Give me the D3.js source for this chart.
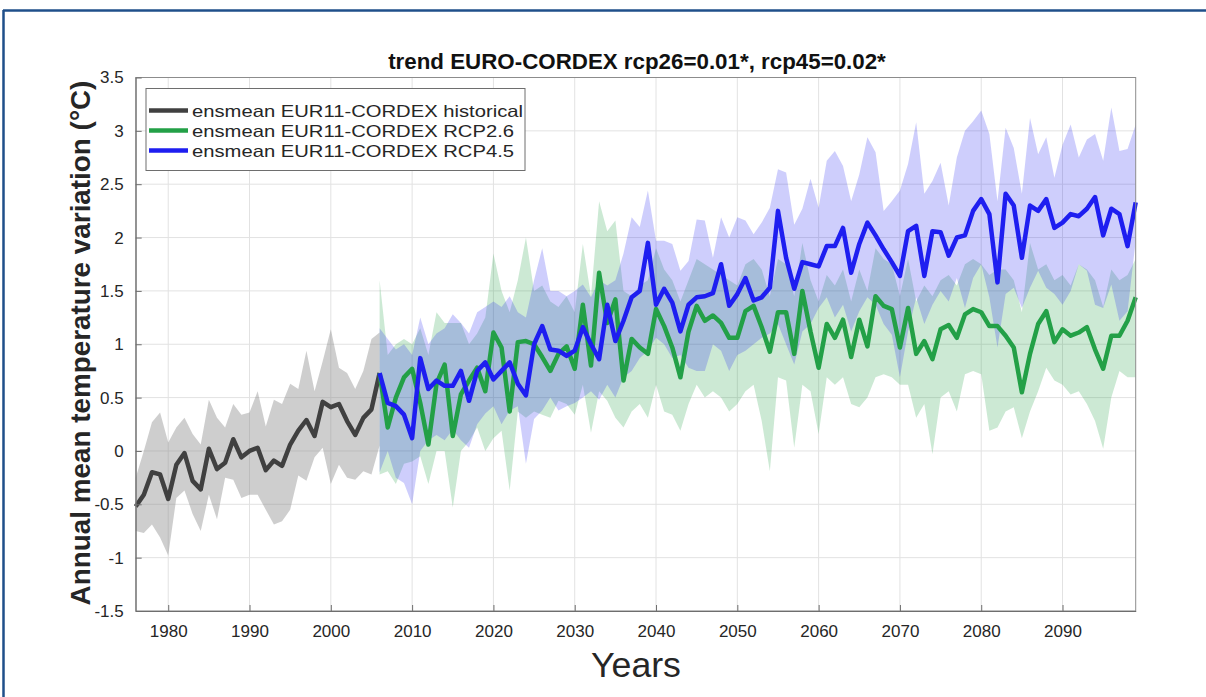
<!DOCTYPE html>
<html><head><meta charset="utf-8">
<script src="https://cdn.jsdelivr.net/npm/d3@7"></script>
<style>html,body{margin:0;padding:0;background:#fff;}svg{display:block;font-family:"Liberation Sans",Arial,sans-serif;}</style>
</head><body>
<svg id="chart" width="1206" height="697"></svg>
<script>
// ---------------- data ----------------
const histYears = d3.range(1976, 2007);
const histMean = [-0.52,-0.41,-0.20,-0.22,-0.45,-0.13,-0.02,-0.28,-0.36,0.02,-0.17,-0.11,0.11,-0.06,0.00,0.03,-0.18,-0.09,-0.14,0.06,0.19,0.29,0.14,0.46,0.41,0.44,0.28,0.15,0.31,0.39,0.73];
const histUpper = [-0.25,0.00,0.27,0.36,0.08,0.22,0.31,0.16,0.06,0.48,0.31,0.22,0.44,0.34,0.36,0.56,0.23,0.48,0.44,0.63,0.58,0.94,0.56,0.84,1.14,0.78,0.73,0.58,0.75,1.05,1.11];
const histLower = [-0.75,-0.77,-0.69,-0.81,-0.98,-0.44,-0.37,-0.59,-0.75,-0.41,-0.64,-0.25,-0.27,-0.44,-0.41,-0.41,-0.55,-0.69,-0.66,-0.55,-0.23,-0.28,-0.06,0.03,-0.31,-0.13,-0.25,-0.27,-0.19,-0.22,0.05];

const rcpYears = d3.range(2006, 2100);
const rcp26Mean = [
 0.73,0.22,0.50,0.69,0.77,0.45,0.06,0.63,0.81,0.14,
 0.53,0.66,0.78,0.56,1.11,0.97,0.37,1.02,1.03,1.00,
 0.88,0.75,0.91,0.98,0.77,1.37,0.80,1.67,1.20,1.42,
 0.66,1.05,0.97,0.91,1.33,1.17,0.97,0.69,1.12,1.36,
 1.22,1.27,1.20,1.06,1.06,1.31,1.36,1.16,0.93,1.30,
 1.30,0.91,1.50,1.12,0.78,1.19,1.06,1.23,0.88,1.23,
 0.98,1.45,1.36,1.33,0.97,1.34,0.91,1.03,0.86,1.14,
 1.18,1.06,1.28,1.33,1.30,1.17,1.17,1.08,0.97,0.55,
 0.91,1.19,1.31,1.02,1.14,1.08,1.11,1.16,0.95,0.77,
 1.08,1.08,1.22,1.44];
const rcp26Upper = [
 1.60,0.90,1.00,1.05,1.00,1.15,0.90,1.30,1.20,1.20,
 1.20,1.00,1.10,1.25,1.85,1.50,1.30,1.60,2.00,1.50,
 1.55,1.40,1.35,1.45,1.30,1.94,1.45,2.34,2.06,2.16,
 1.50,1.45,1.55,1.60,1.90,1.70,1.60,1.40,1.60,1.80,
 1.75,1.70,1.65,1.60,1.55,1.75,1.80,1.70,1.45,1.80,
 1.75,1.45,1.95,1.60,1.40,1.65,1.55,1.70,1.40,1.70,
 1.50,1.90,1.80,1.75,1.45,1.80,1.40,1.55,1.45,1.60,
 1.65,1.55,1.75,1.80,1.75,1.65,1.70,1.70,1.60,1.30,
 1.95,1.70,1.75,1.60,1.65,1.55,1.75,1.70,1.60,1.35,
 1.70,1.60,1.65,1.80];
const rcp26Lower = [
 -0.22,-0.19,-0.31,-0.12,-0.10,-0.05,-0.31,0.00,0.00,-0.53,
 0.00,0.09,0.22,0.00,0.12,0.19,-0.37,0.37,0.31,0.37,
 0.34,0.31,0.47,0.44,0.34,0.62,0.17,0.56,0.47,0.31,
 0.22,0.37,0.44,0.31,0.62,0.37,0.34,0.19,0.44,0.62,
 0.50,0.56,0.50,0.37,0.44,0.56,0.62,0.28,-0.19,0.69,
 0.66,0.03,0.62,0.56,0.16,0.69,0.62,0.69,0.44,0.41,
 0.50,0.69,0.72,0.69,0.62,0.62,0.31,0.44,-0.03,0.50,
 0.56,0.37,0.72,0.75,0.72,0.19,0.22,0.37,0.41,0.12,
 0.37,0.56,0.78,0.66,0.62,0.53,0.56,0.44,0.28,0.02,
 0.50,0.75,0.69,0.69];
const rcp45Mean = [
 0.73,0.45,0.42,0.34,0.12,0.87,0.58,0.66,0.61,0.61,
 0.75,0.47,0.75,0.83,0.67,0.75,0.83,0.63,0.52,1.00,
 1.17,0.95,0.94,0.89,0.94,1.16,1.00,0.86,1.37,1.03,
 1.22,1.44,1.50,1.95,1.37,1.52,1.39,1.12,1.37,1.44,
 1.45,1.48,1.75,1.36,1.47,1.62,1.41,1.44,1.53,2.25,
 1.81,1.52,1.77,1.75,1.73,1.92,1.92,2.09,1.67,1.94,
 2.14,2.02,1.89,1.77,1.64,2.06,2.11,1.64,2.06,2.05,
 1.83,2.00,2.02,2.25,2.36,2.22,1.58,2.41,2.30,1.81,
 2.30,2.25,2.36,2.09,2.14,2.22,2.20,2.27,2.38,2.02,
 2.27,2.22,1.92,2.33];
const rcp45Upper = [
 1.15,1.05,0.95,1.00,0.90,1.25,1.00,1.10,1.15,1.28,
 1.20,1.10,1.30,1.35,1.40,1.35,1.45,1.30,1.25,1.60,
 1.90,1.50,1.50,1.45,1.50,1.56,1.44,1.60,1.55,1.60,
 1.85,2.19,2.10,2.44,1.97,1.97,1.94,1.69,1.78,2.17,
 2.16,1.81,2.19,2.00,2.19,2.16,2.03,2.14,2.28,2.64,
 2.61,2.12,2.27,2.55,2.28,2.72,2.81,2.67,2.34,2.59,
 2.94,2.80,2.25,2.34,2.44,2.69,3.08,2.41,2.53,2.70,
 2.30,2.75,3.00,3.09,3.19,2.97,2.34,3.03,2.84,2.41,
 3.12,2.78,2.94,2.56,2.87,3.06,2.75,2.92,2.97,2.72,
 3.22,2.81,2.83,3.06];
const rcp45Lower = [
 -0.20,0.00,-0.25,-0.30,-0.50,0.00,0.10,0.15,0.10,0.20,
 0.10,0.03,0.25,0.35,0.42,0.25,0.38,0.42,-0.12,0.30,
 0.38,0.50,0.38,0.42,0.45,0.50,0.56,0.48,0.62,0.50,
 0.69,0.75,0.87,0.94,1.06,1.00,0.87,0.90,0.78,0.75,
 0.75,1.00,0.94,0.75,0.90,0.94,1.00,1.06,1.10,1.19,
 1.00,0.81,1.12,1.19,1.34,1.44,1.25,1.37,1.12,1.31,
 1.44,1.37,1.19,1.09,0.69,1.12,1.44,1.19,1.37,1.50,
 1.40,1.62,1.34,1.62,1.75,1.44,0.97,1.47,1.53,1.34,
 1.53,1.69,1.53,1.47,1.37,1.50,1.75,1.69,1.37,1.34,
 1.56,1.22,1.31,1.97];

const xTicks = [1980,1990,2000,2010,2020,2030,2040,2050,2060,2070,2080,2090];
const yTicks = [-1.5,-1,-0.5,0,0.5,1,1.5,2,2.5,3,3.5];
const yTickLabels = ["-1.5","-1","-0.5","0","0.5","1","1.5","2","2.5","3","3.5"];
const legendLabels = ["ensmean EUR11-CORDEX historical","ensmean EUR11-CORDEX RCP2.6","ensmean EUR11-CORDEX RCP4.5"];
const titleText = "trend EURO-CORDEX rcp26=0.01*, rcp45=0.02*";
const xLabelText = "Years";
const yLabelText = "Annual mean temperature variation (°C)";

// ---------------- drawing ----------------
const svg = d3.select("#chart");
const L = 135.7, R = 1135.7, T = 77.5, B = 611;
const x = d3.scaleLinear().domain([1976, 2099]).range([L, R]);
const y = d3.scaleLinear().domain([-1.5, 3.5]).range([B, T]);

const colHist = "#404040", col26 = "#23a047", col45 = "#1e1ef0";

// outer frame
svg.append("line").attr("x1",3).attr("x2",1206).attr("y1",10.5).attr("y2",10.5).attr("stroke","#1f4f8a").attr("stroke-width",2.5);
svg.append("line").attr("x1",3.5).attr("x2",3.5).attr("y1",10).attr("y2",697).attr("stroke","#1f4f8a").attr("stroke-width",2.5);

// grid
const g = svg.append("g");
g.selectAll(".gx").data(xTicks).join("line").attr("x1",d=>x(d)).attr("x2",d=>x(d)).attr("y1",T).attr("y2",B).attr("stroke","#e2e2e2").attr("stroke-width",1);
g.selectAll(".gy").data(yTicks).join("line").attr("x1",L).attr("x2",R).attr("y1",d=>y(d)).attr("y2",d=>y(d)).attr("stroke","#e2e2e2").attr("stroke-width",1);

function mkArea(years, lo, hi){
  return d3.area().x((d,i)=>x(years[i])).y0((d,i)=>y(lo[i])).y1((d,i)=>y(hi[i]))(years);
}
function mkLine(years, v){
  return d3.line().x((d,i)=>x(years[i])).y((d,i)=>y(v[i]))(years);
}
svg.append("path").attr("d",mkArea(histYears,histLower,histUpper)).attr("fill","#8a8a8a").attr("fill-opacity",0.42);
svg.append("path").attr("d",mkArea(rcpYears,rcp26Lower,rcp26Upper)).attr("fill",col26).attr("fill-opacity",0.23);
svg.append("path").attr("d",mkArea(rcpYears,rcp45Lower,rcp45Upper)).attr("fill",col45).attr("fill-opacity",0.22);

svg.append("path").attr("d",mkLine(histYears,histMean)).attr("fill","none").attr("stroke",colHist).attr("stroke-width",4.5).attr("stroke-linejoin","round");
svg.append("path").attr("d",mkLine(rcpYears,rcp26Mean)).attr("fill","none").attr("stroke",col26).attr("stroke-width",4.5).attr("stroke-linejoin","round");
svg.append("path").attr("d",mkLine(rcpYears,rcp45Mean)).attr("fill","none").attr("stroke",col45).attr("stroke-width",4.5).attr("stroke-linejoin","round");

// axes box
svg.append("rect").attr("x",L).attr("y",T).attr("width",R-L).attr("height",B-T).attr("fill","none").attr("stroke","#8c8c8c").attr("stroke-width",1);

// axes with inward ticks
const xAxis = d3.axisBottom(x).tickValues(xTicks).tickFormat(d3.format("d")).tickSizeInner(-6).tickSizeOuter(0).tickPadding(14);
const ax = svg.append("g").attr("transform",`translate(0,${B})`).call(xAxis);
const yAxis = d3.axisLeft(y).tickValues(yTicks).tickFormat((d,i)=>yTickLabels[i]).tickSizeInner(-6).tickSizeOuter(0).tickPadding(12);
const ay = svg.append("g").attr("transform",`translate(${L},0)`).call(yAxis);
[ax, ay].forEach(a=>{
  a.select(".domain").attr("stroke","#6e6e6e");
  a.selectAll(".tick line").attr("stroke","#6e6e6e");
  a.selectAll(".tick text").attr("font-size",17).attr("fill","#262626").attr("font-family","'Liberation Sans',Arial,sans-serif");
});

function fit(sel, target){
  const w = sel.node().getComputedTextLength();
  const fs = parseFloat(sel.attr("font-size"));
  sel.attr("font-size", fs*target/w);
  return fs*target/w;
}

// title
const tt = svg.append("text").attr("x",637).attr("y",69).attr("text-anchor","middle").attr("font-weight","bold").attr("font-size",16).attr("fill","#111").text(titleText);
fit(tt, 498);

// axis labels
const xl = svg.append("text").attr("x",636).attr("y",677).attr("text-anchor","middle").attr("font-size",30).attr("fill","#262626").text(xLabelText);
fit(xl, 90);
const yl = svg.append("text").attr("transform","translate(90,343) rotate(-90)").attr("text-anchor","middle").attr("font-weight","bold").attr("font-size",24).attr("fill","#262626").text(yLabelText);
fit(yl, 525);

// legend
const lg = svg.append("g");
lg.append("rect").attr("x",146).attr("y",88.5).attr("width",379).attr("height",82).attr("fill","#fff").attr("stroke","#6e6e6e").attr("stroke-width",1);
const legCols = [colHist, col26, col45];
const legY = [110.5, 130.5, 150.5];
const legW = [331, 322, 322];
legendLabels.forEach((lab,i)=>{
  lg.append("line").attr("x1",149).attr("x2",188).attr("y1",legY[i]).attr("y2",legY[i]).attr("stroke",legCols[i]).attr("stroke-width",4.5);
  lg.append("text").attr("x",192).attr("y",legY[i]+6).attr("font-size",16.5).attr("fill","#262626")
    .attr("textLength",legW[i]).attr("lengthAdjust","spacingAndGlyphs").text(lab);
});
</script>
</body></html>
